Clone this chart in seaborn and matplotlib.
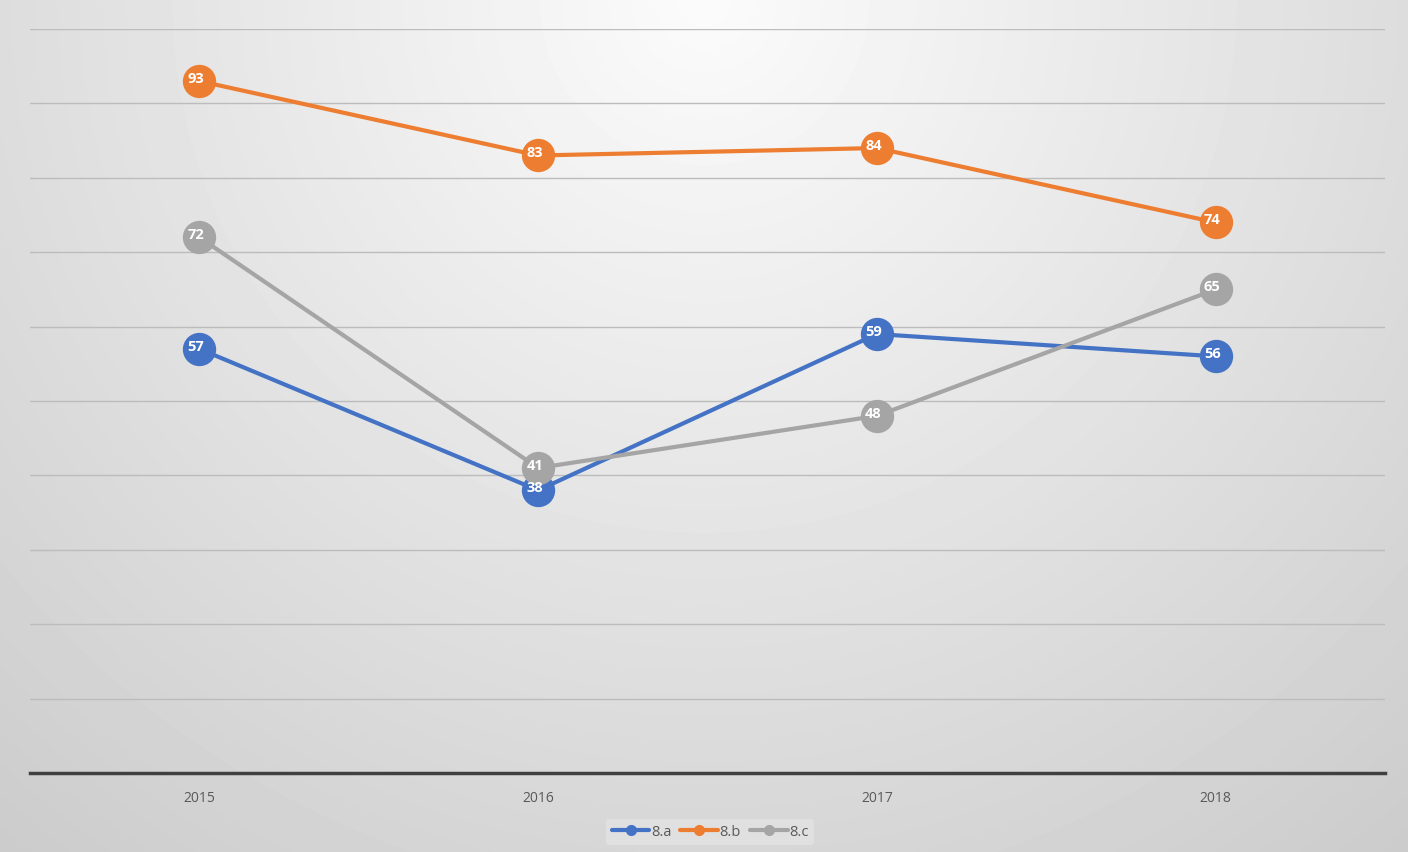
import matplotlib.pyplot as plt
from matplotlib.lines import Line2D
import numpy as np
import pandas as pd
import seaborn as sns

# data
years = ["2015", "2016", "2017", "2018"]
series_a = [57, 38, 59, 56]
series_b = [93, 83, 84, 74]
series_c = [72, 41, 48, 65]
names = ["8.a", "8.b", "8.c"]
colors = ["#4472C4", "#ED7D31", "#A5A5A5"]

df = pd.DataFrame({
    "year": years * 3,
    "value": series_a + series_b + series_c,
    "series": np.repeat(names, len(years)),
})

sns.set_style("white")
plt.rcParams["font.family"] = ["Open Sans", "DejaVu Sans"]

fig = plt.figure(figsize=(14.08, 8.52), dpi=100)

# radial grey background, light at the top centre
bg = fig.add_axes([0, 0, 1, 1], zorder=-10)
yy, xx = np.mgrid[0:852, 0:1408]
r = np.sqrt(((xx - 704) / 1000.0) ** 2 + (yy / 1000.0) ** 2)
shade = np.clip(0.985 - 0.17 * r, 0.78, 1.0)
bg.imshow(shade, cmap="gray", vmin=0, vmax=1, aspect="auto")
bg.axis("off")

ax = fig.add_axes([30 / 1408, 79 / 852, 1355 / 1408, 744 / 852])
ax.patch.set_alpha(0)

sns.lineplot(data=df, x="year", y="value", hue="series", palette=colors,
             marker="o", markersize=24, markeredgewidth=0, linewidth=3,
             legend=False, ax=ax, zorder=3)

for name, col in zip(names, colors):
    vals = df[df["series"] == name]["value"].tolist()
    for i, v in enumerate(vals):
        ax.text(i - 0.01, v + 0.3, str(v), color="white", fontsize=10.5,
                fontweight="bold", ha="center", va="center", zorder=5)

ax.set_xlim(-0.5, 3.5)
ax.set_ylim(0, 100)
ax.set_yticks(np.arange(0, 101, 10))
ax.yaxis.grid(True, color="#bcbcbc", linewidth=1)
ax.set_yticklabels([])
ax.tick_params(axis="y", length=0)
ax.tick_params(axis="x", length=0, labelsize=10, labelcolor="#595959", pad=13)
ax.set_xlabel("")
ax.set_ylabel("")
for s in ["top", "right", "left"]:
    ax.spines[s].set_visible(False)
ax.spines["bottom"].set_color("#404040")
ax.spines["bottom"].set_linewidth(2.5)

handles = [Line2D([0], [0], color=c, linewidth=3, marker="o", markersize=7)
           for c in colors]
leg = ax.legend(handles, names, loc="center", bbox_to_anchor=(710 / 1408, 20 / 852),
                bbox_transform=fig.transFigure, ncol=3, frameon=True,
                fontsize=10.5, handlelength=2.6, columnspacing=0.6,
                handletextpad=0.1, borderpad=0.4)
leg.get_frame().set_facecolor("#e2e2e2")
leg.get_frame().set_edgecolor("none")
leg.get_frame().set_alpha(0.9)
for t in leg.get_texts():
    t.set_color("#595959")

fig.savefig("out.png", dpi=100)
